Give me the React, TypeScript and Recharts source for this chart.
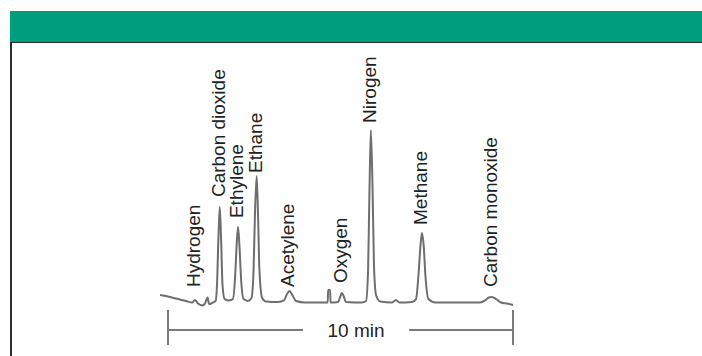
import { ComposedChart, Line, XAxis, YAxis, ReferenceLine, ReferenceDot } from "recharts";

// chromatogram trace, time in minutes, detector signal in relative units
const traceTime = [
  -0.23, 0, 0.23, 0.52, 0.7, 0.78, 0.87, 0.99, 1.07, 1.15, 1.19, 1.3,
  1.38, 1.42, 1.46, 1.5, 1.54, 1.58, 1.64, 1.74,
  1.88, 1.94, 1.99, 2.03, 2.07, 2.12, 2.19, 2.32,
  2.42, 2.48, 2.52, 2.57, 2.61, 2.65, 2.73, 2.84, 3.19,
  3.36, 3.45, 3.52, 3.59, 3.71, 3.97, 4.63, 4.64, 4.7, 4.71,
  4.93, 5.0, 5.04, 5.09, 5.16, 5.62,
  5.74, 5.8, 5.84, 5.88, 5.93, 5.97, 6.03, 6.15, 6.49, 6.61, 6.7, 7.07,
  7.19, 7.26, 7.32, 7.36, 7.41, 7.46, 7.55, 7.75, 9.04,
  9.19, 9.3, 9.39, 9.51, 9.65, 9.83, 10,
];
const traceSignal = [
  4.1, 3.2, 2.0, 0.6, -0.3, 1.2, -0.9, -2.0, -0.9, 2.6, -1.2, -0.3,
  0.6, 9.9, 36, 55.2, 36, 9.9, 1.7, 0.9,
  1.7, 12.8, 33.1, 43.6, 33.1, 12.8, 1.7, 0.6,
  2.3, 18.6, 50.6, 73.3, 50.6, 18.6, 2.3, 0.3, 0,
  0.9, 4.6, 6.4, 4.6, 0.6, -0.3, -0.3, 7.0, 7.0, -0.3,
  0, 3.5, 5.2, 3.5, 0, -0.3,
  0.6, 18.6, 65.1, 100, 65.1, 21.5, 4.1, 0.3, -0.3, 1.2, -0.3, 0,
  1.7, 15.7, 33.1, 40.1, 33.1, 15.7, 1.7, -0.3, -0.3,
  0.9, 2.6, 2.9, 1.7, -0.3, -0.9, -1.7,
];

const peakNames = [
  "Hydrogen", "Carbon dioxide", "Ethylene", "Ethane", "Acetylene",
  "Oxygen", "Nirogen", "Methane", "Carbon monoxide",
];
const peakTimes = [0.78, 1.5, 2.03, 2.57, 3.52, 5.04, 5.88, 7.36, 9.39];
const labelLevels = [8.7, 61.0, 48.8, 75.0, 8.7, 11.0, 104.1, 44.8, 8.7];

const scaleStart = 0;
const scaleEnd = 10;
const scaleText = "10 min";

const trace = traceTime.map((t, i) => ({ t, s: traceSignal[i] }));

const font = "'Liberation Sans', Arial, sans-serif";
const barY = -16.3;

export default function App() {
  return (
    <div style={{ position: "absolute", left: 0, top: 0, width: 702, height: 356, background: "#fff" }}>
      <div
        style={{
          position: "absolute",
          left: 10,
          top: 11,
          width: 692,
          height: 31,
          background: "#009e7c",
          borderBottom: "1.5px solid #2b2b2b",
        }}
      />
      <div style={{ position: "absolute", left: 10, top: 43, width: 1.5, height: 313, background: "#2b2b2b" }} />
      <div style={{ position: "absolute", left: 0, top: 0 }}>
        <ComposedChart width={702} height={356} margin={{ top: 130, right: 154.5, bottom: 11, left: 133.5 }}>
          <XAxis type="number" dataKey="t" domain={[-1, 11]} hide />
          <YAxis type="number" dataKey="s" domain={[-25, 100]} hide width={0} />
          <Line
            data={trace}
            dataKey="s"
            type="monotone"
            stroke="#6e6e6e"
            strokeWidth={2}
            dot={false}
            isAnimationActive={false}
          />
          {peakNames.map((name, i) => (
            <ReferenceDot
              key={name}
              x={peakTimes[i]}
              y={labelLevels[i]}
              ifOverflow="visible"
              shape={(p: any) => (
                <text
                  x={p.cx + 5}
                  y={p.cy}
                  transform={`rotate(-90 ${p.cx + 5} ${p.cy})`}
                  fontFamily={font}
                  fontSize={19}
                  fill="#222"
                  textAnchor="start"
                >
                  {name}
                </text>
              )}
            />
          ))}
          {/* 10 min scale bar, broken around its label */}
          <ReferenceLine
            segment={[{ x: scaleStart, y: barY }, { x: 3.91, y: barY }]}
            stroke="#7a7a7a"
            strokeWidth={2}
          />
          <ReferenceLine
            segment={[{ x: 6.99, y: barY }, { x: scaleEnd, y: barY }]}
            stroke="#7a7a7a"
            strokeWidth={2}
          />
          <ReferenceLine
            segment={[{ x: scaleStart, y: -4.7 }, { x: scaleStart, y: -25 }]}
            stroke="#7a7a7a"
            strokeWidth={2}
          />
          <ReferenceLine
            segment={[{ x: scaleEnd, y: -4.7 }, { x: scaleEnd, y: -25 }]}
            stroke="#7a7a7a"
            strokeWidth={2}
          />
          <ReferenceDot
            x={5.45}
            y={barY}
            ifOverflow="visible"
            shape={(p: any) => (
              <text
                x={p.cx}
                y={p.cy}
                dy={6.5}
                fontFamily={font}
                fontSize={19}
                fill="#222"
                textAnchor="middle"
              >
                {scaleText}
              </text>
            )}
          />
        </ComposedChart>
      </div>
    </div>
  );
}
